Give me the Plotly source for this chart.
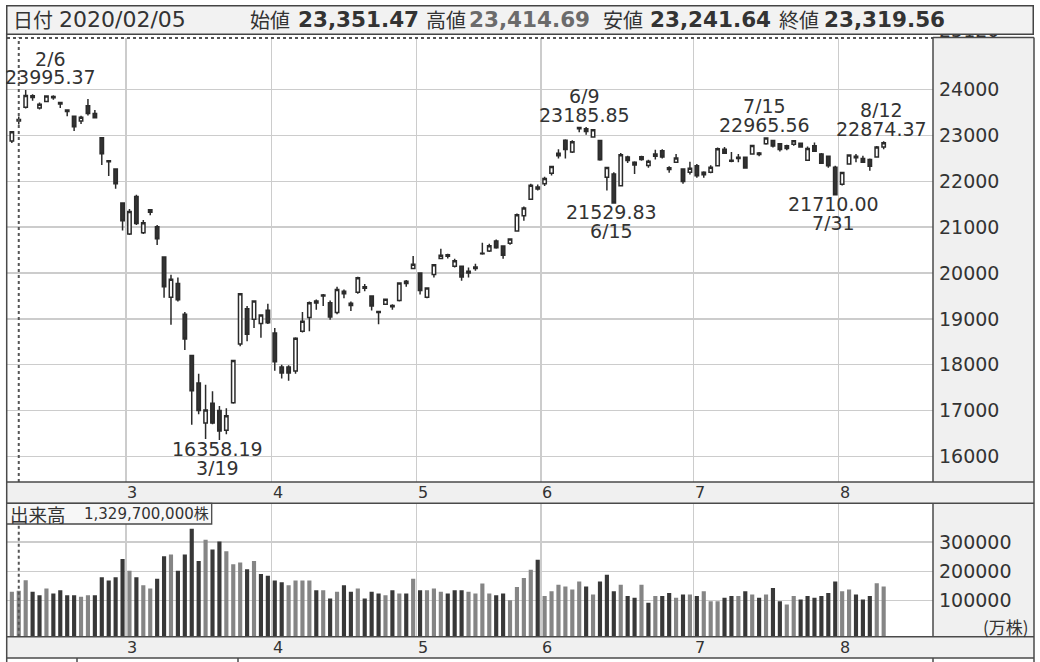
import plotly.graph_objects as go

# ---------------- data ----------------
dates = [
    "2020-02-04", "2020-02-05", "2020-02-06", "2020-02-07", "2020-02-10", "2020-02-12", "2020-02-13", "2020-02-14",
    "2020-02-17", "2020-02-18", "2020-02-19", "2020-02-20", "2020-02-21", "2020-02-25", "2020-02-26", "2020-02-27", "2020-02-28",
    "2020-03-02", "2020-03-03", "2020-03-04", "2020-03-05", "2020-03-06", "2020-03-09", "2020-03-10", "2020-03-11",
    "2020-03-12", "2020-03-13", "2020-03-16", "2020-03-17", "2020-03-18", "2020-03-19", "2020-03-23", "2020-03-24",
    "2020-03-25", "2020-03-26", "2020-03-27", "2020-03-30", "2020-03-31",
    "2020-04-01", "2020-04-02", "2020-04-03", "2020-04-06", "2020-04-07", "2020-04-08", "2020-04-09", "2020-04-10",
    "2020-04-13", "2020-04-14", "2020-04-15", "2020-04-16", "2020-04-17", "2020-04-20", "2020-04-21", "2020-04-22",
    "2020-04-23", "2020-04-24", "2020-04-27", "2020-04-28", "2020-04-30",
    "2020-05-01", "2020-05-07", "2020-05-08", "2020-05-11", "2020-05-12", "2020-05-13", "2020-05-14", "2020-05-15",
    "2020-05-18", "2020-05-19", "2020-05-20", "2020-05-21", "2020-05-22", "2020-05-25", "2020-05-26", "2020-05-27",
    "2020-05-28", "2020-05-29",
    "2020-06-01", "2020-06-02", "2020-06-03", "2020-06-04", "2020-06-05", "2020-06-08", "2020-06-09", "2020-06-10",
    "2020-06-11", "2020-06-12", "2020-06-15", "2020-06-16", "2020-06-17", "2020-06-18", "2020-06-19", "2020-06-22",
    "2020-06-23", "2020-06-24", "2020-06-25", "2020-06-26", "2020-06-29", "2020-06-30",
    "2020-07-01", "2020-07-02", "2020-07-03", "2020-07-06", "2020-07-07", "2020-07-08", "2020-07-09", "2020-07-10",
    "2020-07-13", "2020-07-14", "2020-07-15", "2020-07-16", "2020-07-17", "2020-07-20", "2020-07-21", "2020-07-22",
    "2020-07-27", "2020-07-28", "2020-07-29", "2020-07-30", "2020-07-31",
    "2020-08-03", "2020-08-04", "2020-08-05", "2020-08-06", "2020-08-07", "2020-08-11", "2020-08-12",
]

opens = [
    22882, 23351.47, 23620, 23870, 23600, 23745, 23855, 23720, 23560, 23420, 23320, 23650, 23480, 22950, 22450, 22270, 21530,
    20850, 21670, 20880, 21380, 21010, 20350, 19470, 19770, 19100, 18200, 17600, 16730, 17160, 17000, 16570, 17170, 18450, 19220, 18990, 18900, 19190,
    18690, 17950, 17950, 17860, 18730, 19030, 19390, 19520, 19350, 19140, 19600, 19340, 19580, 19700, 19500, 19160, 19320, 19290, 19400, 19820, 20100,
    20000, 19470, 19970, 20320, 20400, 20150, 20150, 20000, 20100, 20420, 20480, 20700, 20590, 20650, 20920, 21250, 21610, 21835,
    21950, 22180, 22560, 22900, 22640, 23150, 23150, 22970, 22890, 22090, 22160, 21905, 22530, 22420, 22540, 22345, 22600, 22670, 22300, 22420, 22270, 22200,
    22340, 22200, 22200, 22343, 22700, 22460, 22500, 22525, 22600, 22620, 22820, 22890, 22820, 22780, 22810, 22830, 22460, 22780, 22600, 22550, 22306,
    21940, 22380, 22550, 22500, 22475, 22530, 22750,
]

highs = [
    23100, 23414.69, 23995.37, 23900, 23720, 23870, 23880, 23735, 23575, 23430, 23430, 23800, 23560, 22950, 22460, 22280, 21530,
    21400, 21710, 21160, 21400, 21050, 20350, 19960, 19900, 19150, 18200, 17800, 17560, 17420, 17100, 17050, 18100, 19564, 19280, 19400, 19100, 19330,
    18800, 18000, 17990, 18600, 19150, 19380, 19420, 19540, 19400, 19700, 19640, 19380, 19920, 19760, 19510, 19170, 19440, 19320, 19800, 19850, 20370,
    20010, 19690, 20190, 20530, 20420, 20310, 20160, 20120, 20200, 20660, 20640, 20730, 20600, 20760, 21300, 21450, 21950, 21930,
    22100, 22330, 22700, 22920, 22900, 23180, 23185.85, 23140, 22900, 22320, 22200, 22620, 22560, 22440, 22560, 22470, 22690, 22700, 22330, 22600, 22280, 22430,
    22380, 22220, 22350, 22740, 22750, 22640, 22600, 22540, 22790, 22640, 22965.56, 22900, 22840, 22800, 22900, 22850, 22760, 22850, 22620, 22560, 22340,
    22200, 22590, 22600, 22560, 22500, 22770, 22874.37,
]

lows = [
    22840, 23241.64, 23590, 23760, 23570, 23730, 23780, 23600, 23420, 23100, 23250, 23440, 23370, 22360, 22120, 21840, 20930,
    20830, 21050, 20850, 21260, 20610, 19460, 18870, 19380, 18320, 16690, 16920, 16378, 16700, 16358.19, 16480, 17150, 18400, 18510, 18800, 18590, 18890,
    17870, 17700, 17650, 17800, 18700, 18730, 19200, 19280, 18980, 19100, 19450, 19170, 19550, 19600, 19180, 18880, 19300, 19200, 19380, 19700, 20080,
    19530, 19450, 19900, 20300, 20320, 20120, 19830, 19900, 20050, 20400, 20460, 20530, 20310, 20620, 20900, 21140, 21600, 21800,
    21900, 22130, 22500, 22500, 22620, 23070, 23020, 22950, 22450, 21800, 21529.83, 21900, 22400, 22160, 22450, 22300, 22480, 22500, 22190, 22400, 21950, 22150,
    22080, 22080, 22180, 22330, 22600, 22420, 22420, 22280, 22580, 22550, 22800, 22740, 22650, 22680, 22780, 22740, 22450, 22640, 22380, 22300, 21710.00,
    21910, 22370, 22420, 22400, 22230, 22520, 22700,
]

closes = [
    23084.59, 23319.56, 23873.59, 23827.98, 23685.98, 23861.21, 23827.73, 23687.59, 23523.24, 23193.80, 23400.70, 23479.15, 23386.74, 22605.41, 22426.19, 21948.23, 21142.96,
    21344.08, 21082.73, 21100.06, 21329.12, 20749.75, 19698.76, 19867.12, 19416.06, 18559.63, 17431.05, 17002.04, 17011.53, 16726.55, 16552.83, 16887.78, 18092.35, 19546.63, 18664.60, 19389.43, 19084.97, 18917.01,
    18065.41, 17818.72, 17820.19, 18576.30, 18950.18, 19353.24, 19345.77, 19498.50, 19043.40, 19638.81, 19550.09, 19290.20, 19897.26, 19669.12, 19280.78, 19137.95, 19429.44, 19262.00, 19783.22, 19771.19, 20193.69,
    19619.35, 19674.77, 20179.09, 20390.66, 20366.48, 20267.05, 19914.78, 20037.47, 20133.73, 20433.45, 20595.15, 20552.31, 20388.16, 20741.65, 21271.17, 21419.23, 21916.31, 21877.89,
    22062.39, 22325.61, 22613.76, 22695.74, 22863.73, 23178.10, 23091.03, 23124.95, 22472.91, 22305.48, 21530.95, 22582.21, 22455.76, 22355.46, 22478.79, 22437.27, 22549.05, 22534.32, 22259.79, 22512.08, 21995.04, 22288.14,
    22121.73, 22145.96, 22306.48, 22714.44, 22614.69, 22438.65, 22529.29, 22290.81, 22784.74, 22587.01, 22945.50, 22770.36, 22696.42, 22717.48, 22884.22, 22751.61, 22715.85, 22657.38, 22397.11, 22339.23, 21710.00,
    22195.38, 22573.66, 22514.85, 22418.15, 22329.94, 22750.24, 22843.96,
]

# volume in 万株
volumes = [
    129500, 132970, 169000, 129500, 118000, 141000, 124000, 135000, 118000, 118000, 112500, 118000, 118000, 179500, 168000, 179500, 242000,
    202000, 179500, 152000, 141000, 174000, 251000, 257000, 202000, 257000, 345000, 235000, 308000, 274000, 302000, 268000, 224000, 229500, 207000, 235000, 191000, 185000,
    168000, 162500, 152000, 168000, 168000, 168000, 135000, 135000, 107000, 129500, 152000, 129500, 141000, 107000, 129500, 124000, 118000, 135000, 124000, 124000, 174000,
    135000, 135000, 141000, 129500, 124000, 135000, 135000, 129500, 124000, 158000, 124000, 118000, 124000, 101000, 146500, 176600, 205000, 239000,
    115000, 132000, 154000, 148000, 137700, 165000, 148000, 120600, 165000, 188000, 132000, 154000, 115000, 109000, 154000, 92000, 115000, 115000, 126000, 109000, 120600, 120600,
    115000, 132000, 97700, 97700, 109000, 115000, 115000, 132000, 120600, 109000, 120600, 143000, 97700, 86000, 115000, 103000, 115000, 109000, 115000, 126000, 165000,
    132000, 137700, 120600, 103000, 115000, 159000, 148000,
]
prev_close = 22971.94  # close before the first candle (2/3)

price_ticks = [16000, 17000, 18000, 19000, 20000, 21000, 22000, 23000, 24000]
volume_ticks = [100000, 200000, 300000]
hi_marks = ["2020-02-06", "2020-06-09", "2020-07-15", "2020-08-12"]
lo_marks = ["2020-03-19", "2020-06-15", "2020-07-31"]
cursor_date = "2020-02-05"
header_items = [("日付", "2020/02/05"), ("始値", "23,351.47"), ("高値", "23,414.69"),
                ("安値", "23,241.64"), ("終値", "23,319.56")]
volume_caption = ("出来高", "1,329,700,000株")

# ---------------- style ----------------
W, H = 1040, 662
LAT = "DejaVu Sans, Noto Sans CJK JP, sans-serif"
JP = "Noto Sans CJK JP, DejaVu Sans, sans-serif"
TXT = "#333333"
GRID = "#cccccc"
BORDER = "#4a4a4a"
PANEL = "#f0f0f0"
UP_VOL = "#858585"
DOWN_VOL = "#383838"
X_RANGE = [-0.70, 133.13]
P_RANGE = [15440, 25140]
V_RANGE = [-23760, 432300]


def fx(p):
    return p / W


def fy(p):
    return 1 - p / H


x = list(range(len(dates)))

fig = go.Figure()
fig.add_trace(go.Candlestick(
    x=x, open=opens, high=highs, low=lows, close=closes,
    increasing=dict(fillcolor="white", line=dict(color="#2b2b2b", width=1.5)),
    decreasing=dict(fillcolor="#333333", line=dict(color="#2b2b2b", width=1.5)),
    whiskerwidth=0, xaxis="x", yaxis="y", hoverinfo="skip"))

vol_colors = []
prev = prev_close
for c in closes:
    vol_colors.append(UP_VOL if c >= prev else DOWN_VOL)
    prev = c

fig.add_trace(go.Bar(
    x=x, y=[v - V_RANGE[0] for v in volumes], base=V_RANGE[0], width=0.6,
    marker=dict(color=vol_colors, line=dict(width=0)), xaxis="x2", yaxis="y2", hoverinfo="skip"))

# month boundaries
bounds, mlabels = [], []
for i in range(1, len(dates)):
    if dates[i][5:7] != dates[i - 1][5:7]:
        bounds.append(i - 0.5)
        mlabels.append((i + 0.4, str(int(dates[i][5:7]))))

xcommon = dict(range=X_RANGE, tickvals=bounds, showticklabels=False, ticks="", showgrid=True,
               gridcolor=GRID, gridwidth=1.5, zeroline=False, showline=False, fixedrange=True,
               domain=[fx(7), fx(933)])
fig.update_layout(
    width=W, height=H, margin=dict(l=0, r=0, t=0, b=0, autoexpand=False),
    paper_bgcolor="white", plot_bgcolor="white", showlegend=False, hovermode=False,
    xaxis=dict(**xcommon, anchor="y", rangeslider=dict(visible=False)),
    xaxis2=dict(**xcommon, anchor="y2"),
    yaxis=dict(domain=[fy(482), fy(37.5)], range=P_RANGE, side="right", anchor="x",
               tickvals=price_ticks, ticktext=[str(t) for t in price_ticks], ticks="",
               ticklabelstandoff=5, showgrid=True, gridcolor=GRID, gridwidth=1.5, fixedrange=True,
               zeroline=False, showline=False, tickfont=dict(family=LAT, size=19, color=TXT)),
    yaxis2=dict(domain=[fy(636.7), fy(503.3)], range=V_RANGE, side="right", anchor="x2",
                tickvals=volume_ticks, ticktext=[str(t) for t in volume_ticks], ticks="",
                ticklabelstandoff=5, showgrid=True, gridcolor=GRID, gridwidth=1.5, fixedrange=True,
                zeroline=False, showline=False, tickfont=dict(family=LAT, size=19, color=TXT)),
)

shapes = []


def rect(x0, y0, x1, y1, fill, line=None, width=0, layer="below"):
    shapes.append(dict(type="rect", xref="paper", yref="paper", x0=fx(x0), x1=fx(x1), y0=fy(y1), y1=fy(y0),
                       fillcolor=fill, line=dict(color=line or fill, width=width), layer=layer))


def hline(y, x0, x1, color=BORDER, width=1.5, dash="solid"):
    shapes.append(dict(type="line", xref="paper", yref="paper", x0=fx(x0), x1=fx(x1), y0=fy(y), y1=fy(y),
                       line=dict(color=color, width=width, dash=dash), layer="above"))


def vline(xp, y0, y1, color=BORDER, width=1.5, dash="solid"):
    shapes.append(dict(type="line", xref="paper", yref="paper", x0=fx(xp), x1=fx(xp), y0=fy(y0), y1=fy(y1),
                       line=dict(color=color, width=width, dash=dash), layer="above"))


# gray side panels and label bands
rect(933, 37.5, 1034, 482, PANEL)
rect(933, 503.3, 1034, 636.7, PANEL)
rect(6.5, 482, 1034, 503.3, PANEL)
rect(6.5, 636.7, 1034, 658, PANEL)

# crosshair (selected day)
ci = dates.index(cursor_date)
for (a, b) in [(37.5, 482), (503.3, 636.7)]:
    shapes.append(dict(type="line", xref="x", yref="paper", x0=ci, x1=ci, y0=fy(b), y1=fy(a),
                       line=dict(color="#555555", width=2, dash="3px,3px"), layer="above"))
hline(38, 7, 933, color="#555555", width=2, dash="3px,3px")

# borders
vline(6.7, 33, 662)
hline(37.5, 933, 1034)
hline(482, 6.5, 1034)
hline(503.3, 6.5, 1034)
hline(636.7, 6.5, 1034)
hline(658, 6.5, 1034)
vline(933, 37.5, 482)
vline(933, 503.3, 636.7)
vline(1034, 37.5, 662)
vline(77, 658, 662)
vline(238, 658, 662)
vline(933, 658, 662)

# volume caption box
rect(6.7, 503.3, 211.7, 524, "#f7f7f7", line=BORDER, width=1.3, layer="above")

fig.update_layout(shapes=shapes)

ann = []
# partially hidden top price label (covered by header box)
ann.append(dict(text="25120", xref="paper", yref="paper", x=fx(937), y=fy(29.5), xanchor="left",
                yanchor="middle", showarrow=False, font=dict(family=LAT, size=19, color=TXT)))
# header box
ann.append(dict(text=" ", xref="paper", yref="paper", x=fx(5.5), y=fy(4.5), xanchor="left", yanchor="top",
                width=1025, height=27, bgcolor="#f2f2f2", bordercolor="#444444", borderwidth=1.5,
                borderpad=0, showarrow=False))
lab_x = [11, 248, 424, 601, 777]
val_x = [57, 296, 467, 648, 822]
for k, (lab, val) in enumerate(header_items):
    ann.append(dict(text=lab, xref="paper", yref="paper", x=fx(lab_x[k]), y=fy(20), xanchor="left",
                    yanchor="middle", showarrow=False, font=dict(family=JP, size=20, color=TXT)))
    if k == 0:
        vt, vf = val, dict(family=LAT, size=22, color=TXT)
    else:
        vt = "<b>" + val + "</b>"
        vf = dict(family=LAT, size=21.5, color="#6b6b6b" if k == 2 else TXT)
    ann.append(dict(text=vt, xref="paper", yref="paper", x=fx(val_x[k]), y=fy(20), xanchor="left",
                    yanchor="middle", showarrow=False, font=vf))

# volume caption
ann.append(dict(text=volume_caption[0], xref="paper", yref="paper", x=fx(8), y=fy(514), xanchor="left",
                yanchor="middle", showarrow=False, font=dict(family=JP, size=18.5, color=TXT)))
ann.append(dict(text=volume_caption[1], xref="paper", yref="paper", x=fx(82), y=fy(514), xanchor="left",
                yanchor="middle", showarrow=False, font=dict(family=LAT, size=15, color=TXT)))
ann.append(dict(text="(万株)", xref="paper", yref="paper", x=fx(1031), y=fy(626), xanchor="right",
                yanchor="middle", showarrow=False, font=dict(family=JP, size=17, color=TXT)))

# month labels
for xm, t in mlabels:
    for yy in (492.5, 647.5):
        ann.append(dict(text=t, xref="x", yref="paper", x=xm, y=fy(yy), xanchor="center", yanchor="middle",
                        height=17, showarrow=False, font=dict(family=LAT, size=16, color=TXT)))


def md(d):
    return f"{int(d[5:7])}/{int(d[8:10])}"


def mark(i, v, text, shift):
    xc = max(i, X_RANGE[0] + 6.6)
    ann.append(dict(text=text, xref="x", yref="y", x=xc, y=v, xanchor="center", yanchor="middle",
                    xshift=-2, yshift=shift, height=16, borderpad=0, showarrow=False,
                    font=dict(family=LAT, size=19, color=TXT)))


for d in hi_marks:
    i = dates.index(d)
    mark(i, highs[i], f"{highs[i]:.2f}", 12.5)
    mark(i, highs[i], md(d), 31)
for d in lo_marks:
    i = dates.index(d)
    mark(i, lows[i], f"{lows[i]:.2f}", -9.5)
    mark(i, lows[i], md(d), -28)

fig.update_layout(annotations=ann)
fig.write_html("out.html", post_script="document.body.style.margin='0';",
               config={"displayModeBar": False, "staticPlot": True})
